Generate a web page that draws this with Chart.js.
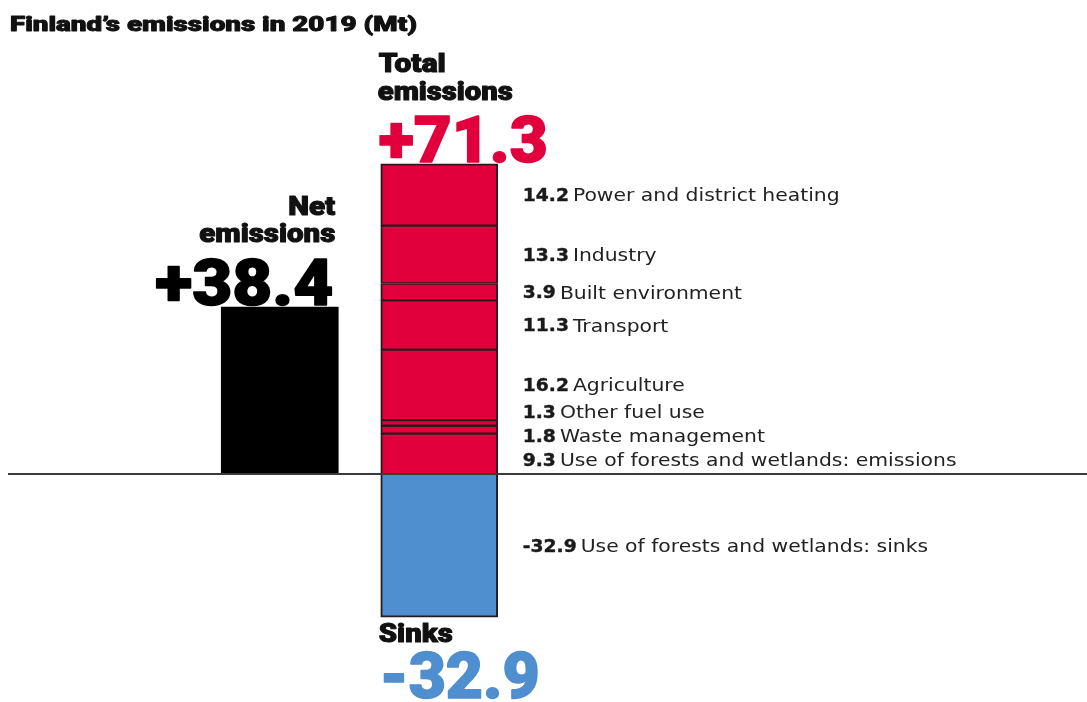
<!DOCTYPE html>
<html>
<head>
<meta charset="utf-8">
<script src="https://cdn.jsdelivr.net/npm/chart.js@4"></script>
<style>
  html, body { margin: 0; padding: 0; background: #fff; }
  #wrap { position: relative; width: 1087px; height: 702px; }
</style>
</head>
<body>
<div id="wrap"><canvas id="c"></canvas></div>
<script>
// Finland's greenhouse gas emissions and sinks, 2019 (Mt CO2e)
const barCategories = ['Net emissions', 'Total emissions'];
const netEmissions = 38.4;
// Emission sectors, listed from the bottom of the stack upwards
const sectorNames = [
  'Use of forests and wetlands: emissions',
  'Waste management',
  'Other fuel use',
  'Agriculture',
  'Transport',
  'Built environment',
  'Industry',
  'Power and district heating'
];
const sectorValues = [9.3, 1.8, 1.3, 16.2, 11.3, 3.9, 13.3, 14.2];
const sinkName = 'Use of forests and wetlands: sinks';
const sinkValue = -32.9;
const totalEmissions = 71.3;

const RED = '#e2003c';
const BLUE = '#4f8ecf';
const EDGE = '#2a1a1e';
const HEAVY = 'Roboto, "Liberation Sans", sans-serif';
const WIDE = '"DejaVu Sans", "Noto Sans", sans-serif';

const fmt = v => (v < 0 ? '-' : '') + Math.abs(v).toFixed(1);

const datasets = [];
datasets.push({
  label: 'Net emissions',
  data: [netEmissions, null],
  backgroundColor: '#000',
  borderWidth: 0
});
sectorValues.forEach((v, i) => {
  datasets.push({
    label: sectorNames[i],
    data: [null, v],
    backgroundColor: RED,
    borderColor: EDGE,
    borderWidth: { left: 2, right: 2, bottom: i === 0 ? 0 : 1.5, top: i === sectorValues.length - 1 ? 2 : 1.5 },
    borderSkipped: false
  });
});
datasets.push({
  label: sinkName,
  data: [null, sinkValue],
  backgroundColor: BLUE,
  borderColor: EDGE,
  borderWidth: { left: 2, right: 2, bottom: 2, top: 0 },
  borderSkipped: false
});

// Spread label anchors so neighbouring labels keep a minimum gap
function spreadLabels(targets, gap) {
  let clusters = targets.map((t, i) => ({ idx: [i], want: [t], pos: t }));
  let changed = true;
  while (changed) {
    changed = false;
    for (let k = 0; k < clusters.length - 1; k++) {
      const a = clusters[k], b = clusters[k + 1];
      const aEnd = a.pos + (a.idx.length - 1) * gap / 2;
      const bStart = b.pos - (b.idx.length - 1) * gap / 2;
      if (bStart - aEnd < gap) {
        const idx = a.idx.concat(b.idx), want = a.want.concat(b.want);
        const mean = want.reduce((s, x) => s + x, 0) / want.length;
        clusters.splice(k, 2, { idx, want, pos: mean });
        changed = true;
        break;
      }
    }
  }
  const out = [];
  clusters.forEach(c => {
    c.idx.forEach((id, j) => {
      out[id] = c.pos + (j - (c.idx.length - 1) / 2) * gap;
    });
  });
  return out;
}

// Text with a horizontal stretch (a factor or a width to fill) and optional extra weight
function drawText(ctx, str, x, y, font, color, align, opts) {
  opts = opts || {};
  ctx.save();
  ctx.font = font;
  ctx.fillStyle = color;
  ctx.textAlign = align || 'left';
  let sx = opts.sx || 1;
  if (opts.width) sx = opts.width / ctx.measureText(str).width;
  ctx.translate(x, y);
  ctx.scale(sx, 1);
  ctx.fillText(str, 0, 0);
  if (opts.weight) {
    ctx.strokeStyle = color;
    ctx.lineWidth = opts.weight;
    ctx.lineJoin = 'round';
    ctx.strokeText(str, 0, 0);
  }
  const w = ctx.measureText(str).width * sx;
  ctx.restore();
  return w;
}

const annotations = {
  id: 'annotations',
  afterDatasetsDraw(chart) {
    const ctx = chart.ctx;
    const y = chart.scales.y;
    const netBar = chart.getDatasetMeta(0).data[0];
    const topBar = chart.getDatasetMeta(sectorValues.length).data[1];
    const zero = y.getPixelForValue(0);

    // baseline at zero, across the full width
    ctx.save();
    ctx.strokeStyle = '#3a3a3a';
    ctx.lineWidth = 2;
    ctx.beginPath();
    ctx.moveTo(8, zero);
    ctx.lineTo(chart.width, zero);
    ctx.stroke();
    ctx.textBaseline = 'alphabetic';

    const HEAD = '900 25px ' + HEAVY;
    const BIG = '900 65px ' + HEAVY;
    const ink = '#111';

    // title
    drawText(ctx, 'Finland\u2019s emissions in 2019 (Mt)', 10, 31, '900 21px ' + HEAVY, ink, 'left', { width: 407, weight: 0.9 });

    // total emissions heading
    const tLeft = topBar.x - topBar.width / 2 - 3;
    const tTop = y.getPixelForValue(totalEmissions);
    drawText(ctx, '+' + fmt(totalEmissions), tLeft + 1, tTop - 2, BIG, RED, 'left', { width: 169, weight: 1.6 });
    drawText(ctx, 'emissions', tLeft, tTop - 64, HEAD, ink, 'left', { width: 135, weight: 1 });
    drawText(ctx, 'Total', tLeft + 1, tTop - 92, HEAD, ink, 'left', { width: 67, weight: 1 });

    // net emissions heading
    const nRight = netBar.x + netBar.width / 2 - 4;
    const nTop = y.getPixelForValue(netEmissions);
    drawText(ctx, '+' + fmt(netEmissions), nRight - 1, nTop - 2, BIG, '#000', 'right', { width: 178, weight: 1.6 });
    drawText(ctx, 'emissions', nRight + 1, nTop - 65, HEAD, ink, 'right', { width: 136, weight: 1 });
    drawText(ctx, 'Net', nRight + 1, nTop - 92, HEAD, ink, 'right', { width: 47, weight: 1 });

    // sinks heading
    const sBottom = y.getPixelForValue(sinkValue);
    drawText(ctx, 'Sinks', tLeft + 1, sBottom + 25, HEAD, ink, 'left', { width: 74, weight: 1 });
    drawText(ctx, fmt(sinkValue), tLeft + 2, sBottom + 81, BIG, BLUE, 'left', { width: 160, weight: 1.6 });

    // sector labels, right of the stacked bar
    const labelX = topBar.x + topBar.width / 2 + 25;
    let base = 0;
    const centers = sectorValues.map(v => {
      const c = y.getPixelForValue(base + v / 2);
      base += v;
      return c;
    });
    const order = centers.map((c, i) => i).sort((a, b) => centers[a] - centers[b]);
    const spread = spreadLabels(order.map(i => centers[i]), 24);
    const rows = [];
    order.forEach((i, k) => rows.push({ value: sectorValues[i], name: sectorNames[i], y: spread[k] }));
    rows.push({ value: sinkValue, name: sinkName, y: y.getPixelForValue(sinkValue / 2) });

    ctx.textBaseline = 'middle';
    rows.forEach(r => {
      const ly = r.y + 2;
      const w = drawText(ctx, fmt(r.value), labelX, ly, 'bold 17px ' + WIDE, '#1a1a1a', 'left', { sx: 1.1, weight: 0.4 });
      drawText(ctx, r.name, labelX + w + 4, ly, '18px ' + WIDE, '#222', 'left', { sx: 1.13 });
    });
    ctx.restore();
  }
};

new Chart(document.getElementById('c'), {
  type: 'bar',
  data: { labels: barCategories, datasets },
  options: {
    responsive: true,
    maintainAspectRatio: false,
    animation: false,
    layout: { padding: { left: 200, right: 568, top: 126, bottom: 54 } },
    datasets: { bar: { barThickness: 117 } },
    plugins: { legend: { display: false }, tooltip: { enabled: false }, title: { display: false } },
    scales: {
      x: { stacked: true, display: false, offset: true },
      y: { stacked: true, display: false, min: -40, max: 80 }
    }
  },
  plugins: [annotations]
});
</script>
</body>
</html>
